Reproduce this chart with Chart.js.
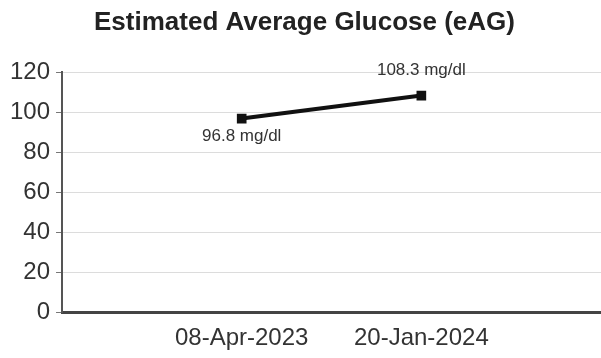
<!DOCTYPE html>
<html>
<head>
<meta charset="utf-8">
<script src="https://cdn.jsdelivr.net/npm/chart.js@4"></script>
<style>
    html, body { margin: 0; padding: 0; background: #fff; overflow: hidden; }
    canvas { display: block; }
</style>
</head>
<body>
<canvas id="eagChart" width="601" height="358"></canvas>
<script>
// ── Dados ──
const CATEGORIAS = ['', '08-Apr-2023', '20-Jan-2024', ''];
const EAG        = [null, 96.8, 108.3, null];
const Y_TICKS    = [0, 20, 40, 60, 80, 100, 120];

const FONTE = "'Liberation Sans', Arial, Helvetica, sans-serif";

// rótulos "xx mg/dl" junto aos pontos
const rotulos = {
    id: 'rotulos',
    afterDatasetsDraw(chart) {
        const ctx  = chart.ctx;
        const meta = chart.getDatasetMeta(0);
        ctx.save();
        ctx.font = `17px ${FONTE}`;
        ctx.fillStyle = '#333';
        ctx.textAlign = 'center';
        ctx.textBaseline = 'middle';
        let n = 0;
        meta.data.forEach((pt, i) => {
            const v = EAG[i];
            if (v == null) return;
            const dy = n === 0 ? 18 : -25;
            ctx.fillText(`${v} mg/dl`, pt.x, pt.y + dy);
            n++;
        });
        ctx.restore();
    }
};

new Chart(document.getElementById('eagChart'), {
    type: 'line',
    data: {
        labels: CATEGORIAS,
        datasets: [{
            label: 'eAG',
            data: EAG,
            borderColor: '#111',
            backgroundColor: '#111',
            borderWidth: 4,
            pointStyle: 'rect',
            pointRadius: 4,
            pointBackgroundColor: '#111',
            pointBorderColor: '#111',
            tension: 0,
        }]
    },
    options: {
        responsive: false,
        animation: false,
        layout: { autoPadding: false, padding: { left: 4, right: -4, top: 0, bottom: 5 } },
        plugins: {
            legend: { display: false },
            tooltip: { enabled: false },
            title: {
                display: true,
                text: 'Estimated Average Glucose (eAG)',
                color: '#222',
                font: { family: FONTE, size: 26, weight: 'bold' },
                padding: { top: 7, bottom: 34 }
            }
        },
        scales: {
            x: {
                offset: false,
                // marcas invisíveis, só para afastar os rótulos do eixo
                grid: { display: false, drawTicks: true, tickLength: 12 },
                border: { display: true, color: '#444', width: 3 },
                ticks: {
                    color: '#333',
                    font: { family: FONTE, size: 24 },
                    padding: 0,
                    maxRotation: 0,
                    autoSkip: false
                },
                afterFit: s => { s.paddingLeft = 0; s.paddingRight = 0; }
            },
            y: {
                min: 0,
                max: 120,
                afterBuildTicks: s => { s.ticks = Y_TICKS.map(v => ({ value: v })); },
                grid: { color: '#dcdcdc', tickColor: '#777', tickLength: 6, lineWidth: 1 },
                border: { display: true, color: '#555', width: 2 },
                ticks: {
                    color: '#333',
                    font: { family: FONTE, size: 24 },
                    padding: 6
                }
            }
        }
    },
    plugins: [rotulos]
});
</script>
</body>
</html>
